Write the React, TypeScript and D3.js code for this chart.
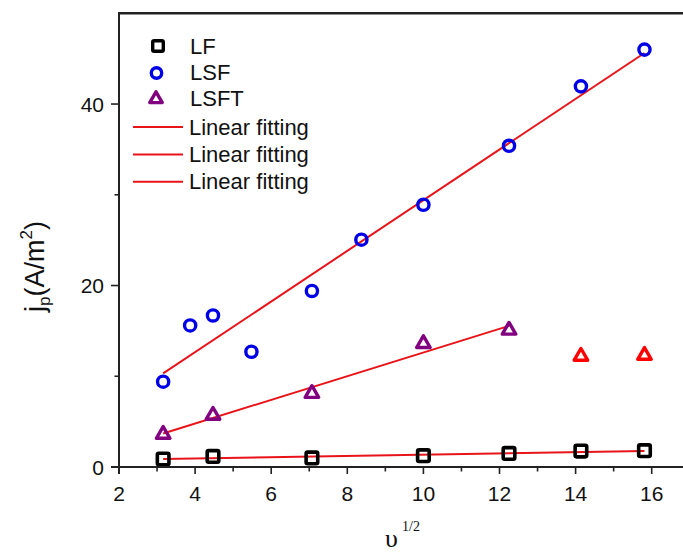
import React from "react";
import * as d3 from "d3";

const W = 683;
const H = 552;

// x values: square root of scan rate
const xLF = [3.16, 4.47, 7.07, 10, 12.25, 14.14, 15.81];
const yLF = [0.88, 1.17, 1.0, 1.25, 1.5, 1.76, 1.8];

const xLSF = [3.16, 3.87, 4.47, 5.48, 7.07, 8.37, 10, 12.25, 14.14, 15.81];
const yLSF = [9.4, 15.6, 16.7, 12.7, 19.4, 25.05, 28.9, 35.4, 41.95, 46.0];

const xLSFT = [3.16, 4.47, 7.07, 10, 12.25];
const yLSFT = [3.6, 5.7, 8.1, 13.6, 15.07];

// excluded LSFT points (red)
const xLSFTex = [14.14, 15.81];
const yLSFTex = [12.2, 12.3];

const xMajor = [2, 4, 6, 8, 10, 12, 14, 16];
const xMinor = [3, 5, 7, 9, 11, 13, 15];
const yMajor = [0, 20, 40];
const yMinor = [10, 30];

const legendSeries = ["LF", "LSF", "LSFT"];
const legendFits = ["Linear fitting", "Linear fitting", "Linear fitting"];

function fit(xs: number[], ys: number[]) {
  const mx = d3.mean(xs)!;
  const my = d3.mean(ys)!;
  let sxy = 0, sxx = 0;
  xs.forEach((x, i) => {
    sxy += (x - mx) * (ys[i] - my);
    sxx += (x - mx) * (x - mx);
  });
  const b = sxy / sxx;
  const a = my - b * mx;
  const x0 = d3.min(xs)!, x1 = d3.max(xs)!;
  return [[x0, a + b * x0], [x1, a + b * x1]] as [number, number][];
}

const SANS = "'Liberation Sans', Arial, Helvetica, sans-serif";
const SERIF = "'Liberation Serif', 'Times New Roman', serif";

export default function App() {
  const x = d3.scaleLinear().domain([2, 17]).range([119, 119 + 15 * 38.05]);
  const y = d3.scaleLinear().domain([0, 50]).range([467, 13.3]);
  const line = d3.line<[number, number]>().x(d => x(d[0])).y(d => y(d[1]));

  const fits = [fit(xLF, yLF), fit(xLSF, yLSF), fit(xLSFT, yLSFT)];

  const tri = (cx: number, cy: number, s: number) => {
    const h = s * Math.sqrt(3) / 2;
    return `M${cx},${cy - h * 2 / 3}L${cx + s / 2},${cy + h / 3}L${cx - s / 2},${cy + h / 3}Z`;
  };

  const x0 = x(2), yb = y(0), yt = y(50);

  return (
    <svg width={W} height={H} style={{ position: "absolute", left: 0, top: 0, background: "#fff" }}>
      <rect width={W} height={H} fill="#fff" />
      {/* fit lines */}
      {fits.map((f, i) => (
        <path key={i} d={line(f)!} fill="none" stroke="#e8141a" strokeWidth={2} />
      ))}
      {/* LF squares */}
      {xLF.map((v, i) => (
        <rect key={i} x={x(v) - 5.8} y={y(yLF[i]) - 5.8} width={11.6} height={11.6} rx={1.5}
          fill="none" stroke="#000" strokeWidth={3.6} />
      ))}
      {/* LSF circles */}
      {xLSF.map((v, i) => (
        <circle key={i} cx={x(v)} cy={y(yLSF[i])} r={5.6} fill="none" stroke="#0000e6" strokeWidth={3.4} />
      ))}
      {/* LSFT triangles */}
      {xLSFT.map((v, i) => (
        <path key={i} d={tri(x(v), y(yLSFT[i]), 13.5)} fill="none" stroke="#800080" strokeWidth={3.4} strokeLinejoin="round" />
      ))}
      {xLSFTex.map((v, i) => (
        <path key={i} d={tri(x(v), y(yLSFTex[i]), 13.5)} fill="none" stroke="#ff0000" strokeWidth={3.4} strokeLinejoin="round" />
      ))}

      {/* axes */}
      <line x1={x0} x2={x0} y1={yt} y2={yb + 7} stroke="#222" strokeWidth={2} />
      <line x1={x0 - 8} x2={W + 10} y1={yb} y2={yb} stroke="#222" strokeWidth={2} />
      <line x1={x0 - 1} x2={W + 10} y1={yt} y2={yt} stroke="#222" strokeWidth={2.5} />
      {xMajor.map(v => (
        <line key={v} x1={x(v)} x2={x(v)} y1={yb} y2={yb + 7} stroke="#222" strokeWidth={1.6} />
      ))}
      {xMinor.map(v => (
        <line key={v} x1={x(v)} x2={x(v)} y1={yb} y2={yb + 4.5} stroke="#222" strokeWidth={1.6} />
      ))}
      {yMajor.map(v => (
        <line key={v} x1={x0 - 8} x2={x0} y1={y(v)} y2={y(v)} stroke="#222" strokeWidth={1.6} />
      ))}
      {yMinor.map(v => (
        <line key={v} x1={x0 - 4.5} x2={x0} y1={y(v)} y2={y(v)} stroke="#222" strokeWidth={1.6} />
      ))}
      {xMajor.map(v => (
        <text key={v} x={x(v)} y={500.5} textAnchor="middle" fontFamily={SANS} fontSize={21} fill="#111">{v}</text>
      ))}
      {yMajor.map(v => (
        <text key={v} x={104} y={y(v) + 7.5} textAnchor="end" fontFamily={SANS} fontSize={21} fill="#111">{v}</text>
      ))}

      {/* axis titles */}
      <text x={385} y={547} fontFamily={SERIF} fontSize={26} fill="#111">υ</text>
      <text x={402} y={531} fontFamily={SERIF} fontSize={14} fill="#111">1/2</text>
      <text transform="translate(44,312) rotate(-90)" fontFamily={SANS} fontSize={27} fill="#111">
        j<tspan fontSize={17} dy={6}>p</tspan><tspan dy={-6}>(A/m</tspan><tspan fontSize={17} dy={-12}>2</tspan><tspan dy={12}>)</tspan>
      </text>

      {/* legend */}
      <rect x={158 - 5.3} y={46 - 5.3} width={10.6} height={10.6} rx={1.5} fill="none" stroke="#000" strokeWidth={3.4} />
      <circle cx={156.5} cy={73} r={5.2} fill="none" stroke="#0000e6" strokeWidth={3.4} />
      <path d={tri(156, 99, 12.5)} fill="none" stroke="#800080" strokeWidth={3.4} strokeLinejoin="round" />
      {legendSeries.map((t, i) => (
        <text key={t} x={190} y={53.5 + i * 26.3} fontFamily={SANS} fontSize={22} fill="#111">{t}</text>
      ))}
      {legendFits.map((t, i) => (
        <g key={i}>
          <line x1={133} x2={183} y1={127 + i * 27.4} y2={127 + i * 27.4} stroke="#e8141a" strokeWidth={2} />
          <text x={189} y={134.5 + i * 27} fontFamily={SANS} fontSize={22} fill="#111">{t}</text>
        </g>
      ))}
    </svg>
  );
}
